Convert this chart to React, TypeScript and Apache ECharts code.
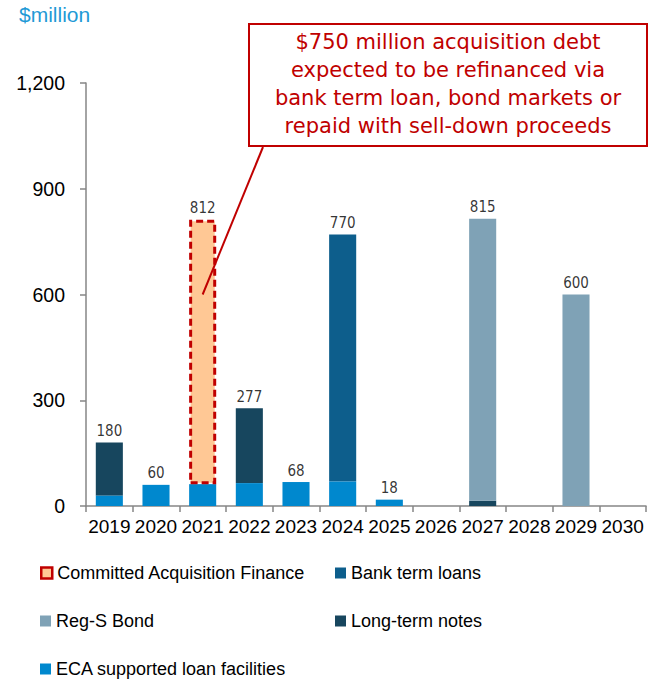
import React, { useEffect, useRef } from "react";
import * as echarts from "echarts";

const years = ["2019", "2020", "2021", "2022", "2023", "2024", "2025", "2026", "2027", "2028", "2029", "2030"];
const ecaLoans = [30, 60, 62, 65, 68, 70, 18, 0, 0, 0, 0, 0];
const longTermNotes = [150, 0, 0, 212, 0, 0, 0, 0, 15, 0, 0, 0];
const bankTermLoans = [0, 0, 0, 0, 0, 700, 0, 0, 0, 0, 0, 0];
const committedAcq = [0, 0, 750, 0, 0, 0, 0, 0, 0, 0, 0, 0];
const regSBond = [0, 0, 0, 0, 0, 0, 0, 0, 800, 0, 600, 0];
const yTicks = [0, 300, 600, 900, 1200];

const annotationLines = [
  "$750 million acquisition debt",
  "expected to be refinanced via",
  "bank term loan, bond markets or",
  "repaid with sell-down proceeds",
];

const C_ECA = "#0088CE";
const C_LTN = "#17465E";
const C_BANK = "#0D5E8C";
const C_REGS = "#7FA2B6";
const C_PEACH = "#FFC895";
const C_RED = "#C00000";

const LABEL_FONT = "'DejaVu Sans Condensed', 'DejaVu Sans', sans-serif";
const NOTE_FONT = "'DejaVu Sans', sans-serif";
const MAIN_FONT = "'Liberation Sans', Arial, sans-serif";

export default function App() {
  const ref = useRef<HTMLDivElement>(null);
  useEffect(() => {
    if (!ref.current) return;
    const chart = echarts.init(ref.current, undefined, { renderer: "svg" });
    const totals = years.map(
      (_, i) => ecaLoans[i] + longTermNotes[i] + bankTermLoans[i] + committedAcq[i] + regSBond[i]
    );
    const toNull = (arr: number[]) => arr.map((v) => (v === 0 ? null : v));
    const barBase = { type: "bar", stack: "total", barWidth: "58%" };
    const legendBase = {
      orient: "horizontal",
      padding: 0,
      itemWidth: 11,
      itemHeight: 11,
      itemGap: 0,
      textStyle: { fontFamily: MAIN_FONT, fontSize: 18, color: "#000" },
      selectedMode: false,
    };
    chart.setOption({
      animation: false,
      grid: { left: 86, right: 12, top: 83, bottom: 178, containLabel: false },
      legend: [
        { ...legendBase, left: 40, top: 564, data: [{ name: "Committed Acquisition Finance", icon: "rect", itemStyle: { color: C_PEACH, borderColor: C_RED, borderWidth: 2.5, borderType: "solid" } }] },
        { ...legendBase, left: 335, top: 564, data: [{ name: "Bank term loans", icon: "rect" }] },
        { ...legendBase, left: 40, top: 612, data: [{ name: "Reg-S Bond", icon: "rect" }] },
        { ...legendBase, left: 335, top: 612, data: [{ name: "Long-term notes", icon: "rect" }] },
        { ...legendBase, left: 40, top: 660, data: [{ name: "ECA supported loan facilities", icon: "rect" }] },
      ],
      xAxis: {
        type: "category",
        data: years,
        axisLine: { lineStyle: { color: "#868686", width: 1.5 } },
        axisTick: { show: true, length: 6, lineStyle: { color: "#868686", width: 1.5 } },
        axisLabel: { fontFamily: MAIN_FONT, fontSize: 19, color: "#000", margin: 11, interval: 0 },
      },
      yAxis: {
        type: "value",
        min: 0,
        max: 1200,
        interval: 300,
        axisLine: { show: true, lineStyle: { color: "#868686", width: 1.5 } },
        axisTick: { show: true, length: 6, lineStyle: { color: "#868686", width: 1.5 } },
        splitLine: { show: false },
        axisLabel: {
          fontFamily: MAIN_FONT,
          fontSize: 19.5,
          color: "#000",
          margin: 21,
          formatter: (v: number) => (yTicks.includes(v) ? v.toLocaleString("en-US") : ""),
        },
      },
      series: [
        { ...barBase, name: "ECA supported loan facilities", data: toNull(ecaLoans), itemStyle: { color: C_ECA } },
        { ...barBase, name: "Long-term notes", data: toNull(longTermNotes), itemStyle: { color: C_LTN } },
        { ...barBase, name: "Bank term loans", data: toNull(bankTermLoans), itemStyle: { color: C_BANK } },
        {
          ...barBase,
          name: "Committed Acquisition Finance",
          data: toNull(committedAcq),
          itemStyle: { color: C_PEACH, borderColor: C_RED, borderWidth: 3, borderType: [7, 4] },
        },
        { ...barBase, name: "Reg-S Bond", data: toNull(regSBond), itemStyle: { color: C_REGS } },
        {
          type: "scatter",
          name: "Total",
          data: totals.map((v) => (v === 0 ? null : v)),
          symbolSize: 0,
          silent: true,
          label: {
            show: true,
            position: "top",
            distance: 4,
            fontFamily: LABEL_FONT,
            fontSize: 15,
            color: "#000",
            formatter: (p: any) => String(p.value),
          },
        },
      ],
    });

    const end = chart.convertToPixel({ xAxisIndex: 0, yAxisIndex: 0 }, ["2021", 600]) as number[];
    chart.setOption({
      graphic: [
        {
          type: "text",
          left: 19,
          top: 4,
          style: { text: "$million", fill: "#1F9AD6", font: `21px ${MAIN_FONT}` },
        },
        {
          type: "line",
          shape: { x1: 263, y1: 147, x2: end[0], y2: end[1] },
          style: { stroke: C_RED, lineWidth: 2 },
          z: 100,
        },
        {
          type: "rect",
          shape: { x: 249, y: 24, width: 398, height: 122 },
          style: { fill: "#fff", stroke: C_RED, lineWidth: 2 },
          z: 100,
        },
        {
          type: "text",
          x: 448,
          y: 84,
          style: {
            text: annotationLines.join("\n"),
            fill: C_RED,
            font: `21px ${NOTE_FONT}`,
            lineHeight: 28,
            align: "center",
            verticalAlign: "middle",
          },
          z: 101,
        },
      ],
    });
    return () => chart.dispose();
  }, []);
  return (
    <div
      ref={ref}
      style={{ position: "absolute", left: 0, top: 0, width: 658, height: 684 }}
    />
  );
}
